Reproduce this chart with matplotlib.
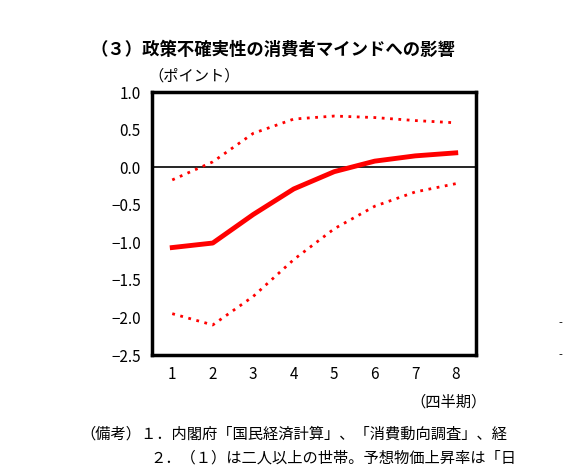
import matplotlib
matplotlib.use("Agg")
import matplotlib.pyplot as plt

plt.rcParams['font.family'] = ['Noto Sans CJK JP', 'DejaVu Sans']

quarters = [1, 2, 3, 4, 5, 6, 7, 8]
estimate = [-1.07, -1.01, -0.63, -0.29, -0.06, 0.08, 0.15, 0.19]
upper = [-0.17, 0.07, 0.45, 0.64, 0.68, 0.66, 0.62, 0.59]
lower = [-1.95, -2.10, -1.72, -1.23, -0.82, -0.52, -0.33, -0.22]
yticks = [1.0, 0.5, 0.0, -0.5, -1.0, -1.5, -2.0, -2.5]

W, H = 563, 471
fig = plt.figure(figsize=(W/100, H/100), dpi=100)
ax = fig.add_axes([152/W, 1-355/H, (476-152)/W, (355-92)/H])

ax.axhline(0, color='black', lw=1.2)
ax.plot(quarters, estimate, color='#ff0000', lw=3.5)
ax.plot(quarters, upper, color='#ff0000', lw=2, ls=(0, (1, 2)))
ax.plot(quarters, lower, color='#ff0000', lw=2, ls=(0, (1, 2)))

ax.set_xlim(0.5, 8.5)
ax.set_ylim(-2.5, 1.0)
ax.set_xticks(quarters)
ax.set_xticklabels([str(q) for q in quarters], fontsize=11)
ax.set_yticks(yticks)
ax.set_yticklabels([f"{v:.1f}".replace('-', '−') for v in yticks], fontsize=11)
ax.tick_params(length=0, pad=8)
for s in ax.spines.values():
    s.set_linewidth(2.5)

fig.text(90/W, 1-50/H, "（３）政策不確実性の消費者マインドへの影響", fontsize=12.5, fontweight='bold', va='center')
fig.text(148/W, 1-76/H, "（ポイント）", fontsize=11, va='center')
fig.text(410/W, 1-402/H, "（四半期）", fontsize=11, va='center')
fig.text(80/W, 1-434/H, "（備考）１．内閣府「国民経済計算」、「消費動向調査」、経", fontsize=11, va='center')
fig.text(150/W, 1-458/H, "２．（１）は二人以上の世帯。予想物価上昇率は「日", fontsize=11, va='center')
fig.text(558/W, 1-323/H, "-", fontsize=8, va='center')
fig.text(558/W, 1-355/H, "-", fontsize=8, va='center')

fig.savefig("out.png", dpi=100)
